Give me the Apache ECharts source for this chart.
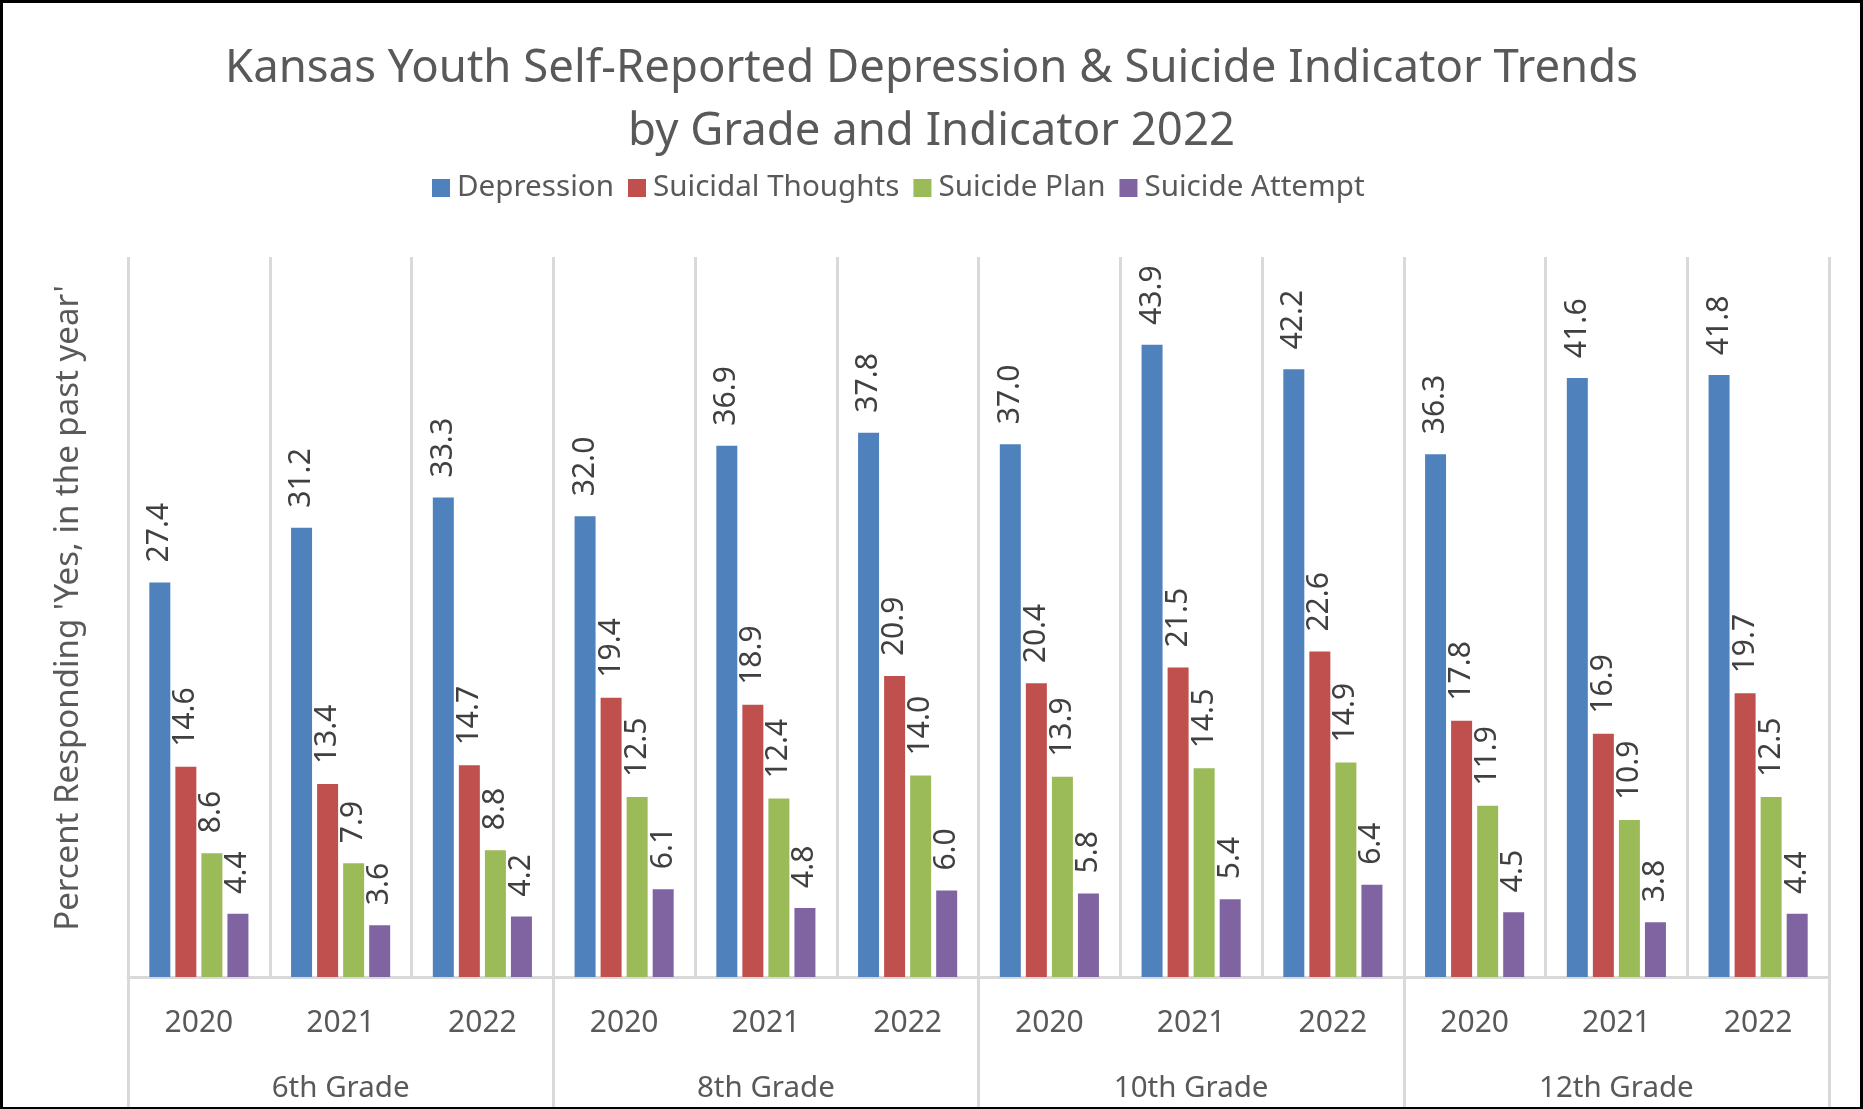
<!DOCTYPE html>
<html>
<head>
<meta charset="utf-8">
<script src="https://cdn.jsdelivr.net/npm/echarts@6/dist/echarts.min.js"></script>
<style>
html,body{margin:0;padding:0;background:#fff;}
#chart{position:absolute;left:0;top:0;width:1863px;height:1109px;}
#frame{position:absolute;left:0;top:0;width:1863px;height:1109px;box-sizing:border-box;border:3px solid #000;border-bottom-width:2px;pointer-events:none;}
</style>
</head>
<body>
<div id="chart"></div>
<div id="frame"></div>
<script>
const years = ['2020','2021','2022','2020','2021','2022','2020','2021','2022','2020','2021','2022'];
const grades = ['6th Grade','8th Grade','10th Grade','12th Grade'];
const depression = [27.4,31.2,33.3,32.0,36.9,37.8,37.0,43.9,42.2,36.3,41.6,41.8];
const suicidalThoughts = [14.6,13.4,14.7,19.4,18.9,20.9,20.4,21.5,22.6,17.8,16.9,19.7];
const suicidePlan = [8.6,7.9,8.8,12.5,12.4,14.0,13.9,14.5,14.9,11.9,10.9,12.5];
const suicideAttempt = [4.4,3.6,4.2,6.1,4.8,6.0,5.8,5.4,6.4,4.5,3.8,4.4];
const seriesNames = ['Depression','Suicidal Thoughts','Suicide Plan','Suicide Attempt'];
const seriesData = [depression, suicidalThoughts, suicidePlan, suicideAttempt];
const colors = ['#4F81BD','#C0504D','#9BBB59','#8064A2'];

const FONT = 'Noto Sans';
const chart = echarts.init(document.getElementById('chart'), null, {renderer:'canvas'});
const option = {
  animation:false,
  color: colors,
  textStyle:{fontFamily:FONT},
  title:{
    text:'Kansas Youth Self-Reported Depression & Suicide Indicator Trends\nby Grade and Indicator 2022',
    left:'center', top:33,
    textStyle:{fontFamily:FONT,fontSize:45.5,fontWeight:'normal',color:'#595959',lineHeight:63,align:'center'}
  },
  legend:{
    data:seriesNames, top:168, left:427,
    itemWidth:18, itemHeight:18, itemGap:14,
    icon:'rect',
    textStyle:{fontFamily:FONT,fontSize:29.6,color:'#595959',padding:[0,0,0,2]}
  },
  grid:{left:128,right:34,top:257,bottom:132,containLabel:false},
  xAxis:[
    {
      type:'category', data:years, position:'bottom',
      axisLine:{show:true,lineStyle:{color:'#d9d9d9',width:3}},
      axisTick:{show:false},
      splitLine:{show:true,interval:0,lineStyle:{color:'#d9d9d9',width:3}},
      axisLabel:{interval:0,fontFamily:FONT,fontSize:30,color:'#595959',margin:31}
    },
    {
      type:'category', data:grades, position:'bottom',
      axisLine:{show:false},
      axisTick:{show:true,interval:0,length:134,lineStyle:{color:'#d9d9d9',width:3}},
      splitLine:{show:false},
      axisLabel:{interval:0,fontFamily:FONT,fontSize:29.5,color:'#595959',margin:97}
    }
  ],
  yAxis:{
    type:'value', min:0, max:50,
    axisLine:{show:false}, axisTick:{show:false}, axisLabel:{show:false}, splitLine:{show:false},
    name:"Percent Responding 'Yes, in the past year'",
    nameLocation:'middle', nameGap:43, nameRotate:90,
    nameTextStyle:{fontFamily:FONT,fontSize:33,color:'#595959',padding:[0,0,0,18]}
  },
  series: seriesNames.map((n,i)=>({
    name:n, type:'bar', xAxisIndex:0, data:seriesData[i],
    barWidth:21, barGap:'24%',
    itemStyle:{color:colors[i]},
    label:{show:true,position:'top',rotate:90,align:'left',verticalAlign:'middle',distance:20,
      fontFamily:FONT,fontSize:30,color:'#404040',
      formatter:p=>p.value.toFixed(1)}
  }))
};
chart.setOption(option);
</script>
</body>
</html>
